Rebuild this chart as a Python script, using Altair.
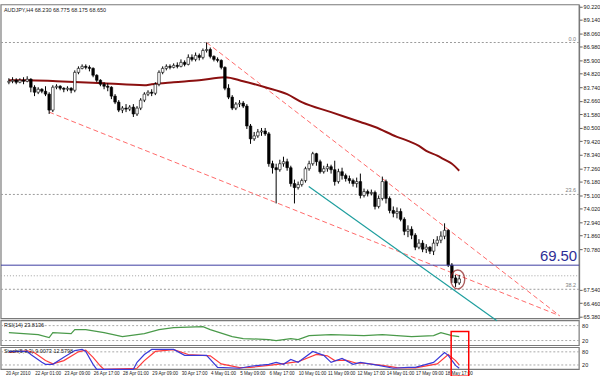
import altair as alt
import pandas as pd

# ---------------- data ----------------
first_open = 84.14
close = [84.22,84.30,84.14,84.30,84.22,84.38,83.74,83.34,83.58,83.42,
 83.19,81.91,83.74,83.82,83.66,83.58,83.66,83.50,84.93,85.25,
 85.41,85.33,85.25,84.70,84.30,83.98,83.82,83.74,83.03,82.55,
 81.91,82.07,81.99,82.15,81.60,82.07,82.71,83.19,83.34,83.26,
 83.98,84.93,85.25,85.41,85.33,85.49,85.41,85.73,85.57,86.13,
 85.97,86.29,86.13,86.68,86.76,86.21,85.97,85.89,85.33,83.66,
 82.95,82.07,82.39,82.47,82.23,80.64,79.61,79.85,80.16,80.24,
 80.01,77.62,77.30,77.14,77.62,77.78,77.30,76.03,75.71,75.95,
 76.27,77.22,77.62,78.42,77.78,76.98,77.22,77.38,77.14,76.19,
 76.98,76.67,76.43,76.27,76.03,76.19,75.08,75.39,75.24,75.32,
 74.20,74.84,76.19,74.84,73.88,73.65,73.80,73.17,72.21,72.37,
 71.90,70.94,71.26,70.78,70.94,70.62,71.26,71.50,71.82,72.29,
 69.51,68.48,68.08,68.40]
high = [84.46,84.54,84.46,84.46,84.54,84.62,84.46,83.90,83.74,83.66,
 83.82,83.34,83.90,83.98,83.90,83.74,83.82,83.74,85.09,85.41,
 85.57,85.57,85.49,85.33,84.78,84.38,84.14,84.06,83.82,83.19,
 82.71,82.23,82.39,82.31,82.39,82.23,82.87,83.34,83.50,83.58,
 84.14,85.09,85.41,85.57,85.57,85.65,85.73,85.97,85.89,86.37,
 86.37,86.52,86.44,86.84,87.32,86.92,86.29,86.13,85.97,85.41,
 83.98,83.11,82.55,82.71,82.63,82.39,80.80,80.16,80.40,80.48,
 80.48,80.16,77.86,77.62,77.94,78.18,78.02,77.46,76.35,76.19,
 76.43,77.38,77.86,78.57,78.49,77.94,77.46,77.62,77.54,77.86,
 77.22,77.30,76.83,76.67,76.43,76.51,76.83,75.63,75.55,75.55,
 75.47,75.08,76.59,76.35,75.00,74.20,74.12,74.04,73.33,72.69,
 72.61,72.06,71.58,71.50,71.18,71.02,71.58,71.82,72.21,72.85,
 72.37,69.67,68.72,68.72]
low = [83.98,84.06,83.98,84.06,83.98,84.14,83.34,83.03,83.19,83.26,
 83.03,81.60,81.75,83.58,83.50,83.34,83.42,83.26,83.34,84.78,
 85.17,85.17,85.01,84.54,84.14,83.82,83.58,83.42,82.79,82.39,
 81.75,81.67,81.75,81.83,81.36,81.44,81.91,82.55,83.03,83.03,
 83.11,83.82,84.78,85.09,85.17,85.25,85.25,85.33,85.41,85.49,
 85.81,85.81,85.89,85.97,86.52,86.05,85.81,85.73,85.17,83.50,
 82.79,81.91,81.91,82.15,82.07,80.40,79.21,79.45,79.69,79.85,
 79.85,77.38,76.83,74.44,76.98,77.38,77.06,75.79,74.44,75.55,
 75.79,76.11,77.06,77.46,77.46,76.83,76.83,76.98,76.83,75.87,
 76.03,76.35,76.19,76.03,75.79,75.71,74.84,74.92,75.00,75.08,
 73.96,74.04,74.68,74.44,73.65,73.33,73.25,73.01,71.90,71.74,
 71.58,70.70,70.78,70.54,70.47,70.39,70.31,71.02,71.26,71.58,
 69.35,68.08,67.76,67.92]

ma_bar = [0, 5, 13, 26, 37, 39, 45, 52, 59, 64, 70, 76, 80, 88, 96, 100, 106, 109, 112, 114, 117, 119, 121, 123]
ma_val = [84.30, 84.30, 84.22, 84.06, 83.90, 83.98, 84.14, 84.30, 84.54, 84.22, 83.74, 83.19, 82.55,
          81.75, 80.96, 80.56, 79.77, 79.45, 79.05, 78.65, 78.26, 77.94, 77.62, 77.06]

rsi_bar = [0, 8, 11, 12, 17, 18, 21, 26, 31, 37, 41, 45, 53, 55, 61, 64, 71, 73, 77, 79, 82, 88, 97, 102, 110, 116, 118, 121, 123]
rsi_val = [52, 44, 32, 52, 48, 64, 64, 52, 36, 48, 64, 72, 76, 64, 36, 28, 24, 20, 28, 24, 40, 44, 40, 44, 36, 40, 52, 40, 36]

stk_bar = [0, 5, 6, 9, 10, 12, 15, 18, 20, 21, 23, 24, 34, 35, 37, 39, 45, 48, 54, 57, 63, 66, 71, 73, 75, 77, 79,
           83, 86, 88, 91, 94, 96, 101, 105, 109, 111, 116, 119, 120, 122, 123]
stk_val = [82, 82, 68, 32, 23, 23, 55, 86, 91, 82, 23, 0, 0, 32, 68, 91, 91, 64, 64, 9, 5, 14, 23, 32, 23, 45, 32,
           82, 64, 32, 50, 23, 32, 18, 5, 9, 9, 32, 77, 64, 18, 5]
sig_bar = [0, 5, 7, 10, 12, 15, 19, 21, 23, 25, 26, 35, 37, 40, 45, 49, 55, 58, 63, 66, 71, 75, 79, 84, 87, 89, 92,
           95, 97, 102, 106, 111, 117, 120, 122, 123]
sig_val = [78, 85, 76, 40, 25, 40, 80, 88, 55, 15, 0, 5, 40, 82, 90, 68, 62, 25, 8, 9, 18, 26, 35, 68, 62, 40, 42,
           28, 28, 18, 8, 7, 25, 68, 40, 20]

price_ticks = [90.22, 89.14, 88.06, 86.98, 85.90, 84.82, 83.74, 82.66, 81.58, 80.50, 79.42, 78.34,
               77.26, 76.18, 75.10, 74.02, 72.94, 71.86, 70.78, 67.54, 66.46, 65.38]
time_labels = ["20 Apr 2010", "22 Apr 01:00", "23 Apr 09:00", "26 Apr 17:00", "28 Apr 01:00",
               "29 Apr 09:00", "30 Apr 17:00", "4 May 01:00", "5 May 09:00", "6 May 17:00",
               "10 May 01:00", "11 May 09:00", "12 May 17:00", "14 May 01:00", "17 May 09:00",
               "18 May 17:00"]
time_label_bar = [8 * k for k in range(len(time_labels))]

fib_price = [87.32, 75.16, 67.57]
fib_name = ["0.0", "23.6", "38.2"]
level_price = [69.50]
bid_price = [68.65]

red_lines = pd.DataFrame({"x": [54, 11], "y": [87.32, 81.75], "x2": [150.4, 150.4], "y2": [65.46, 65.46]})
teal_line = pd.DataFrame({"x": [81.9], "y": [75.79], "x2": [133.3], "y2": [65.06]})
mark_circle = pd.DataFrame({"x": [122.6], "y": [68.36]})
red_box = pd.DataFrame({"x": [120.8], "x2": [125.6]})

title_text = "AUDJPY,H4  68.230 68.775 68.175 68.650"
rsi_text = "RSI(14) 23.8136"
stoch_text = "Stoch(5,3,3) 9.0073 12.5798"

# ---------------- frames ----------------
opens = [first_open] + close[:-1]
candles = pd.DataFrame({"i": list(range(len(close))), "o": opens, "c": close, "h": high, "l": low})
candles["up"] = candles["c"] >= candles["o"]

FONT = "Liberation Sans"
xs = alt.Scale(domain=[-0.8, 154.4], range=[0, 582], nice=False, zero=False)
ys = alt.Scale(domain=[65.218, 90.34], range=[316, 0], nice=False, zero=False)
rs = alt.Scale(domain=[0, 100], range=[343, 318], nice=False, zero=False)
ss = alt.Scale(domain=[0, 100], range=[367, 345], nice=False, zero=False)

one = pd.DataFrame({"a": [0]})
layers = []

# panel frames
for (t, b) in [(0, 316), (318, 343), (345, 367)]:
    layers.append(alt.Chart(one).mark_rect(fillOpacity=0, stroke="#7a7a7a", strokeWidth=1.2).encode(
        x=alt.value(0), x2=alt.value(582), y=alt.value(t), y2=alt.value(b)))

# fib / horizontal lines
fib = pd.DataFrame({"p": fib_price, "n": fib_name})
layers.append(alt.Chart(fib).mark_rule(color="#9a9a9a", strokeDash=[2, 2], strokeWidth=1).encode(
    y=alt.Y("p:Q", scale=ys, axis=None), x=alt.value(0), x2=alt.value(582)))
layers.append(alt.Chart(fib).mark_text(font=FONT, fontSize=5.5, color="#808080", align="right", baseline="bottom", dy=-1).encode(
    y=alt.Y("p:Q", scale=ys, axis=None), x=alt.value(579), text="n:N"))
layers.append(alt.Chart(pd.DataFrame({"p": bid_price})).mark_rule(color="#a0a0a0", strokeDash=[1, 2]).encode(
    y=alt.Y("p:Q", scale=ys, axis=None), x=alt.value(0), x2=alt.value(582)))

# trend lines
layers.append(alt.Chart(red_lines).mark_rule(color="#ff6a6a", strokeDash=[5, 3], strokeWidth=1, clip=True).encode(
    x=alt.X("x:Q", scale=xs, axis=None), x2="x2:Q",
    y=alt.Y("y:Q", scale=ys, axis=None), y2="y2:Q"))
layers.append(alt.Chart(teal_line).mark_rule(color="#1e9e9e", strokeWidth=1.2, clip=True).encode(
    x=alt.X("x:Q", scale=xs, axis=None), x2="x2:Q",
    y=alt.Y("y:Q", scale=ys, axis=None), y2="y2:Q"))

# moving average
ma = pd.DataFrame({"i": ma_bar, "v": ma_val})
layers.append(alt.Chart(ma).mark_line(color="#8b1010", strokeWidth=2, interpolate="monotone").encode(
    x=alt.X("i:Q", scale=xs, axis=None), y=alt.Y("v:Q", scale=ys, axis=None)))

# candles
layers.append(alt.Chart(candles).mark_rule(color="black", strokeWidth=1).encode(
    x=alt.X("i:Q", scale=xs, axis=None), y=alt.Y("l:Q", scale=ys, axis=None), y2="h:Q"))
layers.append(alt.Chart(candles).mark_bar(size=2.6, stroke="black", strokeWidth=0.6).encode(
    x=alt.X("i:Q", scale=xs, axis=None), y=alt.Y("o:Q", scale=ys, axis=None), y2="c:Q",
    fill=alt.condition("datum.up", alt.value("white"), alt.value("black"))))

# price axis (right)
layers.append(alt.Chart(one).mark_point(opacity=0).encode(
    y=alt.Y("a:Q", scale=ys, axis=alt.Axis(orient="right", values=price_ticks, format=".3f", title=None,
            labelFont=FONT, labelFontSize=5.5, labelColor="#202020", tickSize=3, tickColor="#606060",
            domainColor="#606060", labelPadding=1, grid=False, labelOverlap=False, labelFlush=False))))

# 69.50 level
lev = pd.DataFrame({"p": level_price})
layers.append(alt.Chart(lev).mark_rule(color="#3c3ca0", strokeWidth=1).encode(
    y=alt.Y("p:Q", scale=ys, axis=None), x=alt.value(0), x2=alt.value(582)))
layers.append(alt.Chart(lev).mark_text(font=FONT, fontSize=15, color="#2e2e96", align="right", baseline="bottom", dy=-1).encode(
    y=alt.Y("p:Q", scale=ys, axis=None), x=alt.value(580), text=alt.Text("p:Q", format=".2f")))

# ellipse
layers.append(alt.Chart(mark_circle).mark_point(
    shape="M -0.74 0 A 0.74 1 0 1 1 0.74 0 A 0.74 1 0 1 1 -0.74 0 Z", size=361, filled=False,
    stroke="#8b1a1a", strokeWidth=1.4).encode(
    x=alt.X("x:Q", scale=xs, axis=None), y=alt.Y("y:Q", scale=ys, axis=None)))

# RSI
for lv in [80, 20]:
    layers.append(alt.Chart(pd.DataFrame({"v": [lv]})).mark_rule(color="#a8a8a8", strokeDash=[2, 2]).encode(
        y=alt.Y("v:Q", scale=rs, axis=None), x=alt.value(0), x2=alt.value(582)))
rsi = pd.DataFrame({"i": rsi_bar, "v": rsi_val})
layers.append(alt.Chart(rsi).mark_line(color="#4a9a4a", strokeWidth=1.2).encode(
    x=alt.X("i:Q", scale=xs, axis=None), y=alt.Y("v:Q", scale=rs, axis=None)))

# Stochastic
for lv in [80, 20]:
    layers.append(alt.Chart(pd.DataFrame({"v": [lv]})).mark_rule(color="#a8a8a8", strokeDash=[2, 2]).encode(
        y=alt.Y("v:Q", scale=ss, axis=None), x=alt.value(0), x2=alt.value(582)))
stk = pd.DataFrame({"i": stk_bar, "v": stk_val})
sig = pd.DataFrame({"i": sig_bar, "v": sig_val})
layers.append(alt.Chart(sig).mark_line(color="#ff3b3b", strokeWidth=1.2).encode(
    x=alt.X("i:Q", scale=xs, axis=None), y=alt.Y("v:Q", scale=ss, axis=None)))
layers.append(alt.Chart(stk).mark_line(color="#3a3ad8", strokeWidth=1.2).encode(
    x=alt.X("i:Q", scale=xs, axis=None), y=alt.Y("v:Q", scale=ss, axis=None)))

# indicator axis labels
ind = pd.DataFrame({"v": [80, 20]})
layers.append(alt.Chart(ind).mark_text(font=FONT, fontSize=5.5, color="#202020", align="left", baseline="middle").encode(
    y=alt.Y("v:Q", scale=rs, axis=None), x=alt.value(585), text="v:Q"))
layers.append(alt.Chart(ind).mark_text(font=FONT, fontSize=5.5, color="#202020", align="left", baseline="middle").encode(
    y=alt.Y("v:Q", scale=ss, axis=None), x=alt.value(585), text="v:Q"))

# texts
txt = pd.DataFrame({"t": [title_text, rsi_text, stoch_text], "y": [5, 322, 349]})
layers.append(alt.Chart(txt).mark_text(font=FONT, fontSize=5.5, color="#202020", align="left", baseline="middle").encode(
    x=alt.value(3), y=alt.Y("y:Q", scale=alt.Scale(domain=[0, 376], range=[0, 376]), axis=None), text="t:N"))

tl = pd.DataFrame({"i": time_label_bar, "t": time_labels})
layers.append(alt.Chart(tl).mark_text(font=FONT, fontSize=4.6, color="#202020", align="left", baseline="middle").encode(
    x=alt.X("i:Q", scale=xs, axis=None), y=alt.value(371.5), text="t:N", xOffset=alt.value(-3)))

# red annotation box
layers.append(alt.Chart(red_box).mark_rect(fillOpacity=0, stroke="#ff0000", strokeWidth=1.5).encode(
    x=alt.X("x:Q", scale=xs, axis=None), x2="x2:Q", y=alt.value(329), y2=alt.value(374)))

chart = alt.layer(*layers).resolve_scale(y="independent").properties(
    width=582, height=376, padding=0, background="white",
    autosize=alt.AutoSizeParams(type="pad")
).configure_view(stroke=None)

chart.save("out.html", embed_options={"renderer": "svg", "actions": False})
